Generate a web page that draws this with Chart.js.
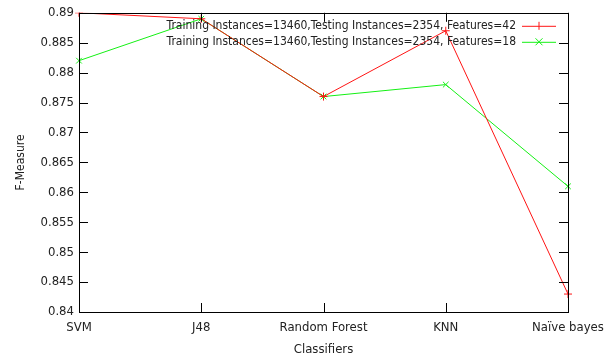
<!DOCTYPE html>
<html>
<head>
<meta charset="utf-8">
<script src="https://cdn.jsdelivr.net/npm/chart.js@4/dist/chart.umd.min.js"></script>
<style>
  html, body { margin: 0; padding: 0; background: #fff; }
  #wrap { width: 613px; height: 358px; }
</style>
</head>
<body>
<div id="wrap"><canvas id="c" width="613" height="358"></canvas></div>
<script>
const classifiers = ['SVM', 'J48', 'Random Forest', 'KNN', 'Naïve bayes'];
const features42 = [0.890, 0.889, 0.876, 0.887, 0.843];
const features18 = [0.882, 0.889, 0.876, 0.878, 0.861];
const label42 = 'Training Instances=13460,Testing Instances=2354, Features=42';
const label18 = 'Training Instances=13460,Testing Instances=2354, Features=18';

const FONT = '"DejaVu Sans Condensed", "DejaVu Sans"';

// gnuplot-style frame: box + ticks pointing inward on all four sides
const frame = {
  id: 'frame',
  afterDraw(chart) {
    const { ctx, chartArea: a, scales } = chart;
    ctx.save();
    ctx.strokeStyle = '#000';
    ctx.lineWidth = 1;
    ctx.strokeRect(Math.round(a.left) + 0.5, Math.round(a.top) + 0.5,
      Math.round(a.right - a.left), Math.round(a.bottom - a.top));
    ctx.beginPath();
    scales.y.ticks.forEach(t => {
      const y = Math.round(scales.y.getPixelForValue(t.value)) + 0.5;
      ctx.moveTo(a.left, y); ctx.lineTo(a.left + 9, y);
      ctx.moveTo(a.right, y); ctx.lineTo(a.right - 9, y);
    });
    scales.x.ticks.forEach((t, i) => {
      const x = Math.round(scales.x.getPixelForValue(i)) + 0.5;
      ctx.moveTo(x, a.bottom); ctx.lineTo(x, a.bottom - 9);
      ctx.moveTo(x, a.top); ctx.lineTo(x, a.top + 9);
    });
    ctx.stroke();
    ctx.restore();
  }
};

// legend inside the top right corner, text right-aligned with sample to its right
const keyBox = {
  id: 'keyBox',
  afterDraw(chart) {
    const { ctx, chartArea: a } = chart;
    ctx.save();
    ctx.font = '12px ' + FONT;
    ctx.textAlign = 'right';
    ctx.textBaseline = 'middle';
    chart.data.datasets.forEach((ds, i) => {
      const y = a.top + 13 + i * 16;
      const xr = a.right - 52;
      ctx.fillStyle = '#222';
      ctx.fillText(ds.label, xr, y);
      ctx.strokeStyle = ds.borderColor;
      ctx.lineWidth = 1;
      ctx.beginPath();
      ctx.moveTo(xr + 6, y + 0.5); ctx.lineTo(xr + 40, y + 0.5);
      ctx.stroke();
      const cx = xr + 23;
      ctx.beginPath();
      if (ds.pointStyle === 'cross') {
        ctx.moveTo(cx, y - 4); ctx.lineTo(cx, y + 4);
      } else {
        ctx.moveTo(cx - 3.5, y - 3.5); ctx.lineTo(cx + 3.5, y + 3.5);
        ctx.moveTo(cx - 3.5, y + 3.5); ctx.lineTo(cx + 3.5, y - 3.5);
      }
      ctx.stroke();
    });
    ctx.restore();
  }
};

new Chart(document.getElementById('c'), {
  type: 'line',
  data: {
    labels: classifiers,
    datasets: [
      {
        label: label42,
        data: features42,
        borderColor: 'rgb(255,20,20)',
        backgroundColor: 'rgb(255,20,20)',
        borderWidth: 1,
        pointStyle: 'cross',
        pointRadius: 4,
        pointBorderWidth: 1,
        tension: 0
      },
      {
        label: label18,
        data: features18,
        borderColor: 'rgb(20,240,20)',
        backgroundColor: 'rgb(20,240,20)',
        borderWidth: 1,
        pointStyle: 'crossRot',
        pointRadius: 4,
        pointBorderWidth: 1,
        tension: 0
      }
    ]
  },
  options: {
    responsive: false,
    animation: false,
    layout: { padding: { left: 14, right: 45, top: 12, bottom: 1 } },
    plugins: {
      legend: { display: false },
      tooltip: { enabled: false }
    },
    scales: {
      x: {
        offset: false,
        grid: { display: false, drawTicks: false },
        border: { display: false },
        ticks: { color: '#222', font: { family: FONT, size: 13 }, padding: 8, maxRotation: 0 },
        title: { display: true, text: 'Classifiers', color: '#222', font: { family: FONT, size: 13 }, padding: { top: 5, bottom: 0 } },
        afterFit(s) { s.height = 45; }
      },
      y: {
        min: 0.84,
        max: 0.89,
        grid: { display: false, drawTicks: false },
        border: { display: false },
        ticks: {
          stepSize: 0.005,
          color: '#222',
          font: { family: FONT, size: 13 },
          padding: 5,
          callback: v => parseFloat(v.toFixed(3)).toString()
        },
        title: { display: true, text: 'F-Measure', color: '#222', font: { family: FONT, size: 12 }, padding: { top: 0, bottom: 10 } },
        afterFit(s) { s.width = 65; }
      }
    }
  },
  plugins: [frame, keyBox]
});
</script>
</body>
</html>
